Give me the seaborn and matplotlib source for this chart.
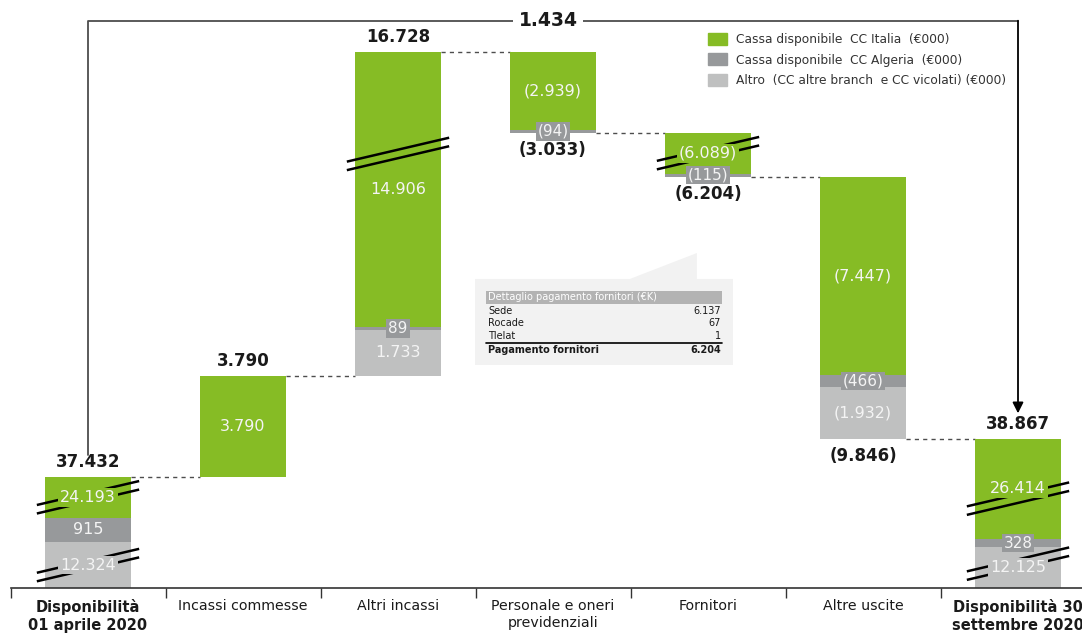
import numpy as np
import matplotlib.pyplot as plt
import matplotlib.patches as mpatches
import seaborn as sns

# ── Palette ────────────────────────────────────────────────
GREEN = "#86BC25"
DGRAY = "#97999B"
LGRAY = "#BFC0C0"
TEXT = "#1A1A1A"
LINE = "#4D4D4D"
BOX = "#F2F2F2"

# ── Data (€000) ────────────────────────────────────────────
categories = ["Disponibilità\n01 aprile 2020", "Incassi commesse", "Altri incassi",
              "Personale e oneri\nprevidenziali", "Fornitori", "Altre uscite",
              "Disponibilità 30\nsettembre 2020"]
kinds = ["total", "step", "step", "step", "step", "step", "total"]
italia = [24193, 3790, 14906, -2939, -6089, -7447, 26414]
algeria = [915, 0, 89, -94, -115, -466, 328]
altro = [12324, 0, 1733, 0, 0, -1932, 12125]
totals = [37432, 3790, 16728, -3033, -6204, -9846, 38867]
bridge = 1434

# broken axis: amount hidden behind the // marks
cut_italia = [22650, 0, 4550, 0, 4550, 0, 22650]
cut_altro = [10600, 0, 0, 0, 0, 0, 10600]
no_cut = [0] * 7
# where the // marks sit inside the segment (fraction from its bottom)
brk_italia = [0.5, None, 0.63, None, 0.5, None, 0.4]
brk_altro = [0.5, None, None, None, None, None, 0.6]
no_brk = [None] * 7

det_labels = ["Sede", "Rocade", "Tlelat"]
det_values = [6137, 67, 1]
det_total_label = "Pagamento fornitori"
det_total = 6204

legend_labels = ["Cassa disponibile  CC Italia  (€000)",
                 "Cassa disponibile  CC Algeria  (€000)",
                 "Altro  (CC altre branch  e CC vicolati) (€000)"]

sns.set_theme(style="white")
plt.rcParams["font.family"] = ["DejaVu Sans"]


def fmt(v):
    s = f"{abs(v):,}".replace(",", ".")
    return f"({s})" if v < 0 else s


fig = plt.figure(figsize=(10.82, 6.33), dpi=100)
ax = fig.add_axes([0, 45 / 633, 1, 588 / 633])
ax.set_xlim(-88 / 155, (1082 - 88) / 155)
ax.set_ylim(0, 588 / 26.6 * 1000)

layers = [(altro, cut_altro, brk_altro, LGRAY),
          (algeria, no_cut, no_brk, DGRAY),
          (italia, cut_italia, brk_italia, GREEN)]

n = len(categories)
x = np.arange(n)
W = 0.555

# waterfall positions on the (broken) display scale
level = 0
bases, tops = [], []
for i in range(n):
    h = sum(abs(v[i]) - c[i] for v, c, _, _ in layers)
    if kinds[i] == "total":
        base = 0
        level = h
    elif totals[i] > 0:
        base = level
        level += h
    else:
        level -= h
        base = level
    bases.append(base)
    tops.append(base + h)

for i in range(n):
    b = bases[i]
    for vals, cut, brk, col in layers:
        h = abs(vals[i]) - cut[i]
        if vals[i] == 0:
            continue
        ax.bar(x[i], h, W, bottom=b, color=col, edgecolor="none", zorder=2)
        if brk[i] is not None:
            yc = b + brk[i] * h
            for off in (-160, 160):
                ax.plot([x[i] - 0.33, x[i] + 0.33], [yc - 450 + off, yc + 450 + off],
                        color="black", lw=1.8, zorder=3, solid_capstyle="butt")
        small = h < 600
        ax.text(x[i], b + h / 2, fmt(vals[i]), ha="center", va="center",
                fontsize=11 if small else 11.5, color="#F4F4F4", zorder=4,
                bbox=dict(boxstyle="square,pad=0.12", fc=col, ec="none"))
        b += h
    # total label
    if totals[i] > 0:
        ax.annotate(fmt(totals[i]), (x[i], tops[i]), xytext=(0, 4), textcoords="offset points",
                    ha="center", va="bottom", fontsize=12, fontweight="bold", color=TEXT)
    else:
        ax.annotate(fmt(totals[i]), (x[i], bases[i]), xytext=(0, -6), textcoords="offset points",
                    ha="center", va="top", fontsize=12, fontweight="bold", color=TEXT)

# dashed connectors
for i in range(n - 1):
    lvl = tops[i] if (kinds[i] == "total" or totals[i] > 0) else bases[i]
    ax.plot([x[i] + W / 2, x[i + 1] - W / 2], [lvl, lvl], color=LINE, lw=1,
            ls=(0, (3, 3)), zorder=1)

# bridge between opening and closing balance
y_top = (588 - 20.7) / 26.6 * 1000
ax.plot([x[0], x[0], x[-1]], [tops[0] + 820, y_top, y_top], color=LINE, lw=1.3, zorder=1)
ax.annotate("", xy=(x[-1], tops[-1] + 950), xytext=(x[-1], y_top),
            arrowprops=dict(arrowstyle="-|>", color="black", lw=1.3,
                            mutation_scale=16, shrinkA=0, shrinkB=0))
ax.text(2.97, y_top, fmt(bridge), ha="center", va="center", fontsize=13.5,
        fontweight="bold", color=TEXT, bbox=dict(boxstyle="square,pad=0.3", fc="white", ec="none"))

# axes
for s in ["top", "right", "left"]:
    ax.spines[s].set_visible(False)
ax.spines["bottom"].set_color("#333333")
ax.spines["bottom"].set_linewidth(1.2)
ax.spines["bottom"].set_bounds(-0.5, ax.get_xlim()[1])
ax.set_yticks([])
ax.set_xticks(np.arange(-0.5, n - 1, 1))
ax.set_xticklabels([])
ax.tick_params(axis="x", which="major", length=7, width=1, color="#333333", direction="out", bottom=True)
ax.set_xticks(x, minor=True)
ax.set_xticklabels(categories, minor=True, fontsize=10.2, color=TEXT, linespacing=1.25)
ax.tick_params(axis="x", which="minor", length=0, pad=8)
for k, lab in zip(kinds, ax.get_xticklabels(minor=True)):
    if k == "total":
        lab.set_fontweight("bold")
        lab.set_fontsize(10.5)

# legend
handles = [mpatches.Patch(color=c) for c in [GREEN, DGRAY, LGRAY]]
fig.legend(handles, legend_labels, loc="upper left", bbox_to_anchor=(703 / 1082, 1 - 28 / 633),
           frameon=False, fontsize=8.8, handlelength=1.6, handleheight=1.1,
           labelspacing=0.62, handletextpad=0.7, borderaxespad=0, labelcolor="#333333")

# callout with payment detail
tab = fig.add_axes([475 / 1082, (633 - 365) / 633, 258 / 1082, 112 / 633])
tab.set_xlim(0, 1)
tab.set_ylim(0, 1)
tab.axis("off")
r = 0.768
tab.add_patch(mpatches.Polygon([(0, 0), (1, 0), (1, r), (0.86, r), (0.86, 1.0), (0.60, r), (0, r)],
                               closed=True, fc=BOX, ec="none"))
tab.add_patch(mpatches.Rectangle((0.043, 0.545), 0.914, 0.116, fc="#B3B3B3", ec="none"))
tab.text(0.05, 0.603, "Dettaglio pagamento fornitori (€K)", fontsize=7, color="white", va="center")
for yy, lab, val in zip([0.482, 0.375, 0.262], det_labels, det_values):
    tab.text(0.05, yy, lab, fontsize=7, color=TEXT, va="center")
    tab.text(0.953, yy, fmt(val), fontsize=7, color=TEXT, va="center", ha="right")
tab.plot([0.043, 0.957], [0.2, 0.2], color="black", lw=1.2)
tab.text(0.05, 0.13, det_total_label, fontsize=7, fontweight="bold", color=TEXT, va="center")
tab.text(0.953, 0.13, fmt(det_total), fontsize=7, fontweight="bold", color=TEXT, va="center", ha="right")

fig.savefig("out.png", dpi=100, facecolor="white")
plt.close(fig)
